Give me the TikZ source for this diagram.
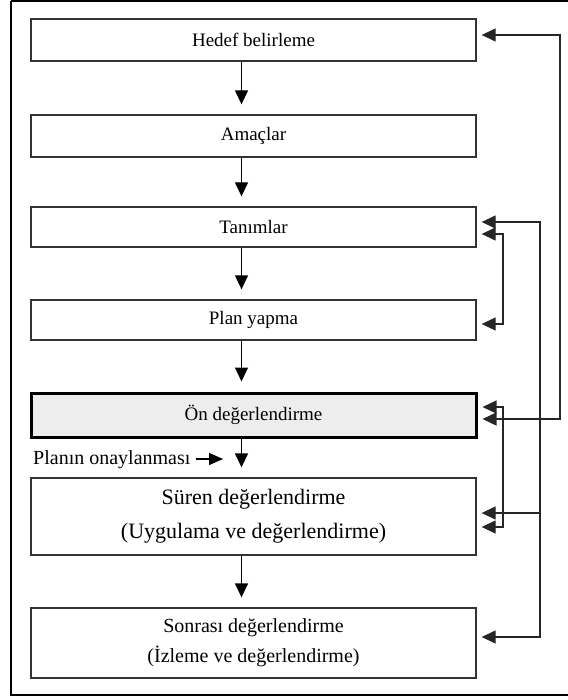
\documentclass[tikz,border=0pt]{standalone}
\usepackage{fontspec}
\setmainfont{Liberation Serif}
\usetikzlibrary{arrows.meta}
\begin{document}
\begin{tikzpicture}[x=1pt,y=-1pt,
  box/.style={draw=black!80,line width=1.3pt,minimum width=445pt,inner sep=0pt,align=center,font=\fontsize{19}{32}\selectfont},
  arr/.style={draw=black!85,line width=1.2pt,-{Triangle[length=14pt,width=13pt]}},
  darr/.style={draw=black!85,line width=1.2pt,{Triangle[length=14pt,width=13pt]}-{Triangle[length=14pt,width=13pt]}},
  down/.style={draw=black,line width=1.3pt,-{Triangle[length=14pt,width=13pt]},shorten >=10pt}]
\useasboundingbox (0,0) rectangle (567,700);
\draw[line width=2pt] (11,1) -- (600,1) (11,1) -- (11,695) -- (600,695);
\node[box,minimum height=42pt] (b1) at (253.5,40) {Hedef belirleme};
\node[box,minimum height=42pt] (b2) at (253.5,136) {Amaçlar};
\node[box,minimum height=40pt] (b3) at (253.5,227) {Tanımlar};
\node[box,minimum height=40pt] (b4) at (253.5,320) {Plan yapma};
\node[box,minimum height=44pt,line width=3pt,draw=black,fill=black!7] (b5) at (253.5,415) {Ön değerlendirme};
\node[box,minimum height=77pt,font=\fontsize{22}{34}\selectfont] (b6) at (253.5,516.5) {Süren değerlendirme\\(Uygulama ve değerlendirme)};
\node[box,minimum height=70pt,font=\fontsize{20}{30}\selectfont] (b7) at (253.5,643) {Sonrası değerlendirme\\(İzleme ve değerlendirme)};
% down arrows
\foreach \a/\b in {b1/b2,b2/b3,b3/b4,b4/b5,b5/b6,b6/b7}
  \draw[down] ([xshift=-12pt]\a.south) -- ([xshift=-12pt]\b.north);
% approval label
\node[anchor=base west,inner sep=0pt,font=\fontsize{20}{22}\selectfont] (pl) at (33,464) {Planın onaylanması};
\coordinate (pt) at (223,459);
\draw[line width=1.2pt,-{Triangle[length=14pt,width=12pt]}] ([xshift=5pt]pl.east |- pt) -- (pt);
% feedback lines
\coordinate (x1) at (560,0);
\coordinate (x2) at (540,0);
\coordinate (x3) at (503,0);
\draw[darr] ([shift={(5pt,5pt)}]b1.east) -- ([yshift=5pt]b1.east -| x1) -- ([yshift=-4pt]b5.east -| x1) -- ([shift={(5pt,-4pt)}]b5.east);
\draw[darr] ([shift={(5pt,5pt)}]b3.east) -- ([yshift=5pt]b3.east -| x2) -- ([yshift=6pt]b7.east -| x2) -- ([shift={(5pt,6pt)}]b7.east);
\draw[arr] ([yshift=3.5pt]b6.east -| x2) -- ([shift={(5pt,3.5pt)}]b6.east);
\draw[darr] ([shift={(5pt,-7pt)}]b3.east) -- ([yshift=-7pt]b3.east -| x3) -- ([yshift=-4pt]b4.east -| x3) -- ([shift={(5pt,-4pt)}]b4.east);
\draw[darr] ([shift={(5pt,8pt)}]b5.east) -- ([yshift=8pt]b5.east -| x3) -- ([yshift=-10.5pt]b6.east -| x3) -- ([shift={(5pt,-10.5pt)}]b6.east);
\end{tikzpicture}
\end{document}
